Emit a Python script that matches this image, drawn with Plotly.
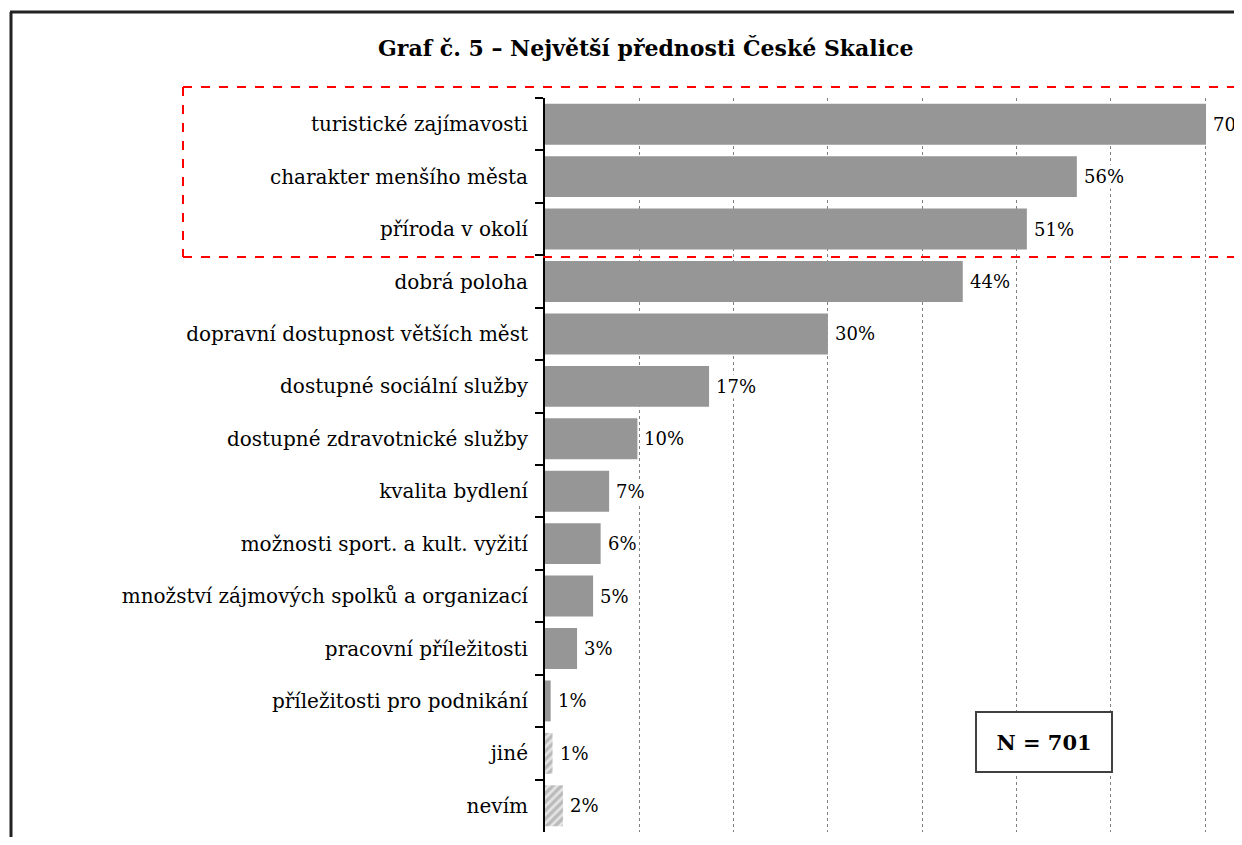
import plotly.graph_objects as go

categories = [
    "turistické zajímavosti",
    "charakter menšího města",
    "příroda v okolí",
    "dobrá poloha",
    "dopravní dostupnost větších měst",
    "dostupné sociální služby",
    "dostupné zdravotnické služby",
    "kvalita bydlení",
    "možnosti sport. a kult. vyžití",
    "množství zájmových spolků a organizací",
    "pracovní příležitosti",
    "příležitosti pro podnikání",
    "jiné",
    "nevím",
]
values = [70.1, 56.4, 51.1, 44.3, 30.0, 17.4, 9.8, 6.8, 5.9, 5.1, 3.4, 0.6, 0.8, 1.9]
value_labels = ["70%", "56%", "51%", "44%", "30%", "17%", "10%", "7%", "6%", "5%", "3%", "1%", "1%", "2%"]
hatched = [False] * 12 + [True, True]

title_text = "Graf č. 5 – Největší přednosti České Skalice"
n_text = "N = 701"

FONT = "DejaVu Serif"
GRAY = "#969696"

# page shows the figure offset by the body margin
OFF = 8
SW, SH = 1242, 845            # screen size
W, H = SW - 2 * OFF, SH - 2 * OFF   # figure size (no scrollbars)
# plot area in screen pixels
SL, ST, SB = 545, 98, 832
SR = OFF + W
L, T = SL - OFF, ST - OFF
B = H - (SB - OFF)
pw, ph = SR - SL, SB - ST

def px(x):
    return (x - SL) / pw

def py(y):
    return 1 - (y - ST) / ph

fig = go.Figure()
fig.add_trace(go.Bar(
    x=values,
    y=categories,
    orientation="h",
    marker=dict(
        color=GRAY,
        line=dict(width=0),
        pattern=dict(
            shape=["/" if h else "" for h in hatched],
            fgcolor="#8f8f8f",
            bgcolor="#e4e4e4",
            size=6,
            solidity=0.55,
        ),
    ),
    hoverinfo="skip",
))

annotations = []
for c, v, t in zip(categories, values, value_labels):
    annotations.append(dict(
        x=v, y=c, xref="x", yref="y", text=t, showarrow=False,
        xanchor="left", yanchor="middle", xshift=5,
        font=dict(family=FONT, size=18, color="black"),
        bgcolor="white", borderpad=1,
    ))

annotations.append(dict(
    x=px(1044), y=py(742), xref="paper", yref="paper", text="<b>" + n_text + "</b>",
    showarrow=False, xanchor="center", yanchor="middle",
    width=132, height=56,
    font=dict(family=FONT, size=21, color="black"),
    bgcolor="white", bordercolor="#404040", borderwidth=2, borderpad=1,
))
annotations.append(dict(
    x=px(645), y=py(48), xref="paper", yref="paper", text="<b>" + title_text + "</b>",
    showarrow=False, xanchor="center", yanchor="middle",
    font=dict(family=FONT, size=22, color="black"),
))

shapes = [
    # outer frame
    dict(type="line", xref="paper", yref="paper", x0=px(11), x1=px(11), y0=py(12), y1=py(SH + 10),
         line=dict(color="#222222", width=3)),
    dict(type="line", xref="paper", yref="paper", x0=px(10), x1=px(SW + 10), y0=py(12), y1=py(12),
         line=dict(color="#222222", width=3)),
    # red dashed highlight box
    dict(type="line", xref="paper", yref="paper", x0=px(183), x1=px(183), y0=py(87), y1=py(257),
         line=dict(color="#ff0000", width=2, dash="dash")),
    dict(type="line", xref="paper", yref="paper", x0=px(183), x1=px(SW + 10), y0=py(87), y1=py(87),
         line=dict(color="#ff0000", width=2, dash="dash")),
    dict(type="line", xref="paper", yref="paper", x0=px(183), x1=px(SW + 10), y0=py(257), y1=py(257),
         line=dict(color="#ff0000", width=2, dash="dash")),
]

fig.update_layout(
    width=W, height=H,
    margin=dict(l=L, r=0, t=T, b=B, autoexpand=False),
    paper_bgcolor="white", plot_bgcolor="white",
    showlegend=False,
    bargap=0.22,
    annotations=annotations,
    shapes=shapes,
    xaxis=dict(
        range=[0, pw / 9.43],
        dtick=10, tick0=0,
        showgrid=True, gridcolor="#808080", gridwidth=1, griddash="dot",
        showticklabels=False, zeroline=False, showline=False, ticks="",
    ),
    yaxis=dict(
        autorange="reversed",
        showline=True, linecolor="black", linewidth=2,
        ticks="outside", ticklen=8, tickcolor="black", tickwidth=2,
        tickson="boundaries",
        showgrid=False,
        tickfont=dict(family=FONT, size=20, color="black"),
        ticklabelstandoff=11,
    ),
)

fig.write_html("out.html")
